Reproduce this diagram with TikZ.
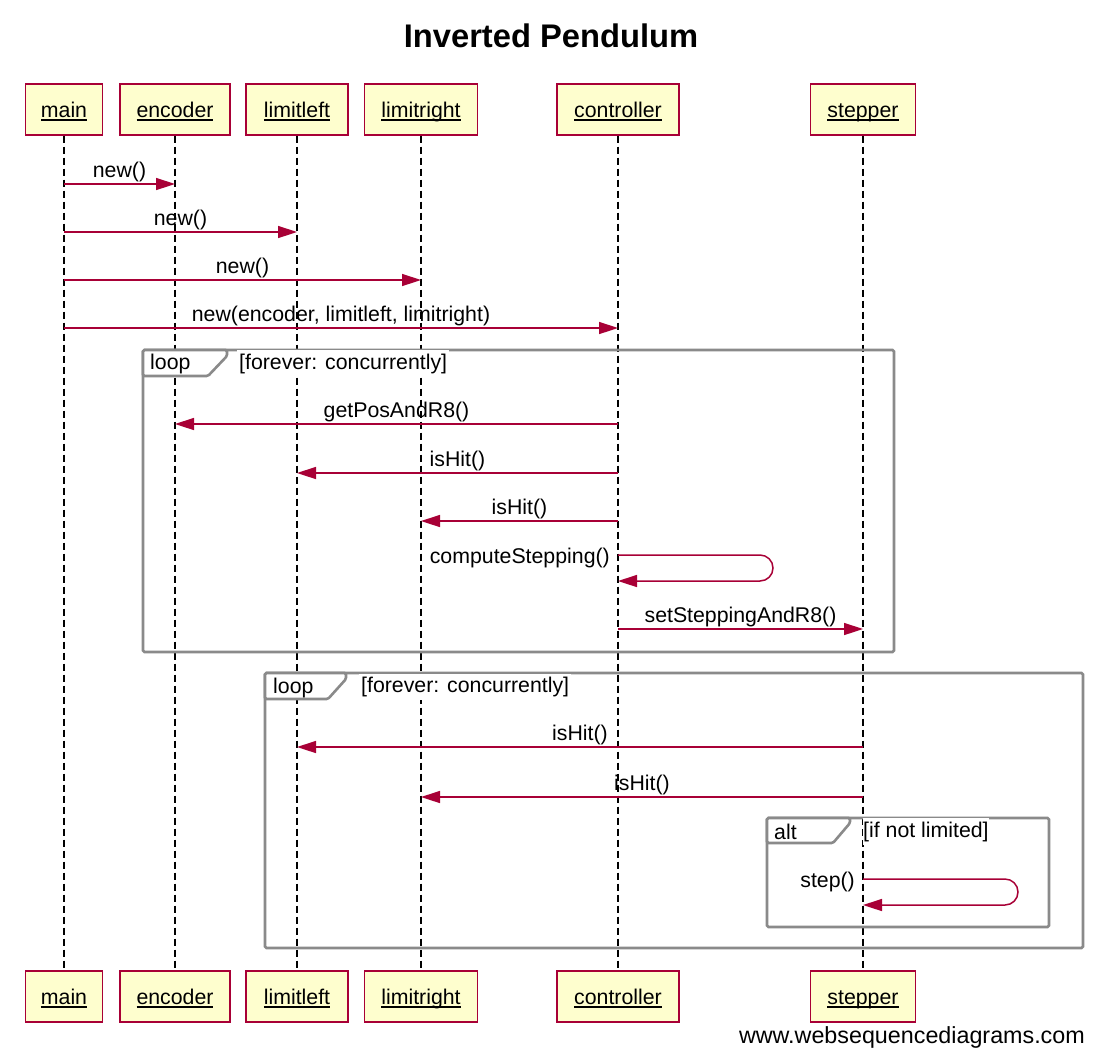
\documentclass[tikz,border=0pt]{standalone}
\usepackage{fontspec}
\setmainfont{Liberation Sans}
\usetikzlibrary{arrows.meta,calc}
\definecolor{wsdred}{HTML}{A80036}
\definecolor{wsdfill}{HTML}{FEFECE}
\definecolor{wsdgray}{HTML}{8A8A8A}
\newcommand{\ulname}[1]{\setbox0\hbox{#1}\rlap{\rule[-3.5pt]{\wd0}{1.2pt}}\box0}
\newcommand{\lblfont}{\fontsize{21.3}{25}\selectfont}
\begin{document}
\begin{tikzpicture}[x=1pt,y=-1pt,
  actor/.style={draw=wsdred, fill=wsdfill, line width=1.3pt, minimum height=51pt,
    inner xsep=0pt, inner ysep=0pt, text height=16pt, text depth=1pt, font=\lblfont, anchor=center},
  life/.style={draw=black, line width=1.7pt, dash pattern=on 7pt off 4pt},
  msg/.style={draw=wsdred, line width=1.5pt, -{Triangle[length=19pt,width=12pt]}},
  lbl/.style={font=\lblfont, anchor=base, inner sep=0pt},
  mlbl/.style={lbl, midway, yshift=7pt},
  frm/.style={draw=wsdgray, line width=2.6pt, rounded corners=1.5pt},
  tabtxt/.style={font=\lblfont, anchor=west, inner sep=0pt},
  condtxt/.style={font=\lblfont, anchor=west, fill=white, inner xsep=2pt, minimum height=24pt},
]
\useasboundingbox (0,0) rectangle (1100,1061);
\fill[white] (0,0) rectangle (1100,1061);

% title
\node[font=\fontsize{32.7}{38}\selectfont\bfseries] (title) at (551,36) {Inverted Pendulum};

% participants top
\node[actor, minimum width=77pt]  (mainT) at (64,109.5)  {\ulname{main}};
\node[actor, minimum width=110pt] (encT)  at (175,109.5) {\ulname{encoder}};
\node[actor, minimum width=102pt] (llT)   at (297,109.5) {\ulname{limitleft}};
\node[actor, minimum width=113pt] (lrT)   at (421,109.5) {\ulname{limitright}};
\node[actor, minimum width=122pt] (ctlT)  at (618,109.5) {\ulname{controller}};
\node[actor, minimum width=105pt] (stpT)  at (863,109.5) {\ulname{stepper}};
% participants bottom
\node[actor, minimum width=77pt]  (mainB) at (64,996.5)  {\ulname{main}};
\node[actor, minimum width=110pt] (encB)  at (175,996.5) {\ulname{encoder}};
\node[actor, minimum width=102pt] (llB)   at (297,996.5) {\ulname{limitleft}};
\node[actor, minimum width=113pt] (lrB)   at (421,996.5) {\ulname{limitright}};
\node[actor, minimum width=122pt] (ctlB)  at (618,996.5) {\ulname{controller}};
\node[actor, minimum width=105pt] (stpB)  at (863,996.5) {\ulname{stepper}};

% lifelines
\foreach \p in {main,enc,ll,lr,ctl,stp}{
  \draw[life] (\p T.south) -- (\p B.north);
}

% frames
\draw[frm] (143,350) rectangle (894,652);
\draw[frm, fill=white] (143,350) -- (227,350) -- (227,356) -- (208,376) -- (143,376) -- cycle;
\node[tabtxt] (loop1) at (150,364) {loop};
\node[condtxt] (cond1) at (237,363.5) {[forever: concurrently]};

\draw[frm] (265,673) rectangle (1083,948);
\draw[frm, fill=white] (265,673) -- (346,673) -- (346,679) -- (328,699) -- (265,699) -- cycle;
\node[tabtxt] (loop2) at (273,687.5) {loop};
\node[condtxt] (cond2) at (359,687) {[forever: concurrently]};

\draw[frm] (767,818) rectangle (1049,927);
\draw[frm, fill=white] (767,818) -- (850,818) -- (850,823) -- (833,843) -- (767,843) -- cycle;
\node[tabtxt] (alt1) at (774,831.5) {alt};
\node[condtxt, inner xsep=0pt] (cond3) at (863,831.5) {[if not limited]};

% messages
\coordinate (m1a) at (64,184);  \coordinate (m1b) at (175,184);
\draw[msg] (m1a) -- (m1b) node[mlbl] {new()};
\coordinate (m2a) at (64,232);  \coordinate (m2b) at (297,232);
\draw[msg] (m2a) -- (m2b) node[mlbl] {new()};
\coordinate (m3a) at (64,280);  \coordinate (m3b) at (421,280);
\draw[msg] (m3a) -- (m3b) node[mlbl] {new()};
\coordinate (m4a) at (64,328);  \coordinate (m4b) at (618,328);
\draw[msg] (m4a) -- (m4b) node[mlbl] {new(encoder, limitleft, limitright)};

\coordinate (m5a) at (618,424);  \coordinate (m5b) at (175,424);
\draw[msg] (m5a) -- (m5b) node[mlbl] {getPosAndR8()};
\coordinate (m6a) at (618,473);  \coordinate (m6b) at (297,473);
\draw[msg] (m6a) -- (m6b) node[mlbl] {isHit()};
\coordinate (m7a) at (618,521);  \coordinate (m7b) at (421,521);
\draw[msg] (m7a) -- (m7b) node[mlbl] {isHit()};

\coordinate (s1a) at (618,555);  \coordinate (s1b) at (618,581);
\draw[msg, rounded corners=13pt] (s1a) -- (773,555) -- (773,581) -- (s1b);
\node[lbl, anchor=base east] (s1l) at (610,563) {computeStepping()};

\coordinate (m8a) at (618,629);  \coordinate (m8b) at (863,629);
\draw[msg] (m8a) -- (m8b) node[mlbl] {setSteppingAndR8()};

\coordinate (m9a) at (863,747);  \coordinate (m9b) at (297,747);
\draw[msg] (m9a) -- (m9b) node[mlbl] {isHit()};
\coordinate (m10a) at (863,797);  \coordinate (m10b) at (421,797);
\draw[msg] (m10a) -- (m10b) node[mlbl] {isHit()};

\coordinate (s2a) at (863,879);  \coordinate (s2b) at (863,905);
\draw[msg, rounded corners=13pt] (s2a) -- (1018,879) -- (1018,905) -- (s2b);
\node[lbl, anchor=base east] (s2l) at (855,887) {step()};

% watermark
\node[font=\fontsize{23.3}{27}\selectfont, anchor=base east, inner sep=0pt] (wm) at (1085,1043) {www.websequencediagrams.com};
\end{tikzpicture}
\end{document}
